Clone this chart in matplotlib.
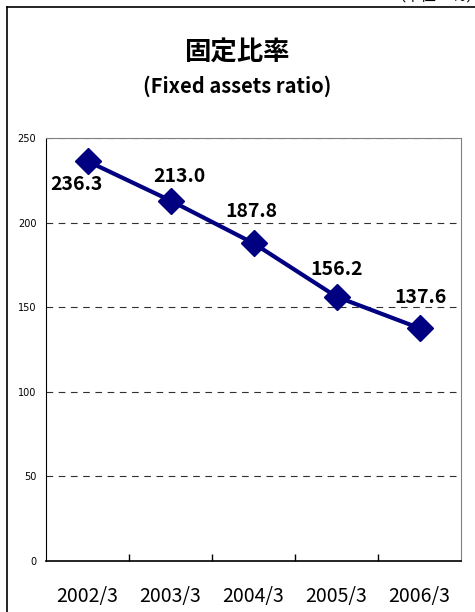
import matplotlib
matplotlib.use("Agg")
import matplotlib.pyplot as plt
from matplotlib.lines import Line2D

plt.rcParams['font.family'] = ['Noto Sans CJK JP', 'DejaVu Sans']

# data
periods = ['2002/3', '2003/3', '2004/3', '2005/3', '2006/3']
ratio = [236.3, 213.0, 187.8, 156.2, 137.6]
yticks = [0, 50, 100, 150, 200, 250]
# label offsets (points) so labels sit like the original
label_off = [(-8, -17), (6.5, 17), (-1.5, 23), (0, 19.5), (0.7, 22)]

W, H = 475, 612
fig = plt.figure(figsize=(W / 100, H / 100), dpi=100)

# outer frame (clipped on right and bottom)
fig.add_artist(Line2D([7 / W, 7 / W], [0, 1 - 7 / H], color='black', lw=1.2))
fig.add_artist(Line2D([7 / W, 1], [1 - 7 / H, 1 - 7 / H], color='black', lw=1.2))
fig.text(390 / W, 1 + 4 / H, '（単位：％）', ha='left', va='center', fontsize=11)

ax = fig.add_axes([46 / W, 1 - 561 / H, 415 / W, 423 / H])
x = list(range(len(periods)))
ax.plot(x, ratio, color='#000080', lw=3, marker='D', ms=13, zorder=3,
        clip_on=False)

for xi, v, off in zip(x, ratio, label_off):
    ax.annotate(f'{v:.1f}', (xi, v), xytext=off, textcoords='offset points',
                ha='center', va='center', fontsize=14, fontweight='bold')

ax.set_xlim(-0.5, 4.5)
ax.set_ylim(0, 250)
ax.set_yticks(yticks)
ax.set_yticklabels([str(t) for t in yticks], fontsize=7, family='DejaVu Sans')
ax.tick_params(axis='y', length=0, pad=7)

for t in yticks[1:]:
    ax.axhline(t, color='#303030', lw=0.8, ls=(0, (6, 5)), zorder=2)

ax.set_xticks([i + 0.5 for i in range(4)])
ax.set_xticklabels([])
ax.tick_params(axis='x', direction='in', length=5, width=1)
for xi, p in zip(x, periods):
    ax.text(xi, -0.083, p, transform=ax.get_xaxis_transform(),
            ha='center', va='center', fontsize=14)

for s in ['top', 'right']:
    ax.spines[s].set_color('#808080')
ax.spines['left'].set_color('black')
ax.spines['bottom'].set_linewidth(1.2)

fig.text(237 / W, 1 - 53 / H, '固定比率', ha='center', va='center',
         fontsize=19, fontweight='bold')
fig.text(237 / W, 1 - 86 / H, '(Fixed assets ratio)', ha='center', va='center',
         fontsize=14.5, fontweight='bold')

fig.savefig('out.png', dpi=100)
